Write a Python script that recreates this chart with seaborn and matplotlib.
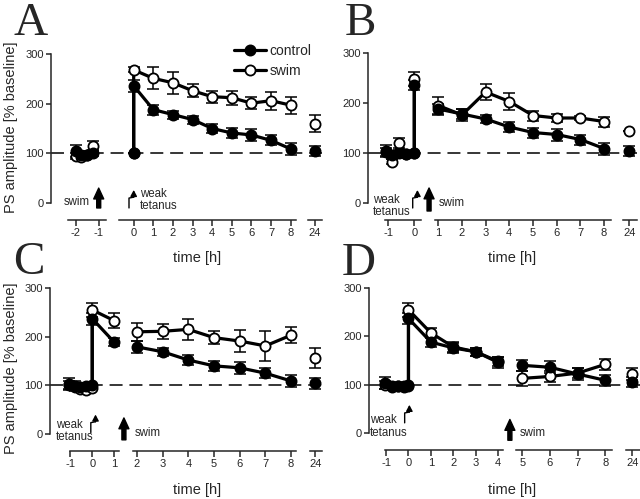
import numpy as np
import matplotlib
matplotlib.use('Agg')
import matplotlib.pyplot as plt
import seaborn as sns
from matplotlib.lines import Line2D
from matplotlib.transforms import IdentityTransform

# time [h], PS amplitude [% baseline] and SEM, one list per piece of the broken time axis
A_time = [[-2, -1.75, -1.5, -1.25], [0, 0, 1, 2, 3, 4, 5, 6, 7, 8], [24]]
A_ctrl = [[105, 97, 97, 100], [100, 236, 188, 178, 168, 150, 141, 137, 126, 109], [105]]
A_ctrl_sem = [[12, 8, 6, 6], [0, 12, 10, 8, 8, 10, 10, 12, 10, 12], [10]]
A_swim = [[95, 93, 97, 114], [100, 268, 251, 242, 226, 214, 212, 201, 206, 197], [160]]
A_swim_sem = [[6, 5, 6, 10], [0, 5, 22, 22, 13, 12, 14, 12, 18, 17], [18]]

B_time = [[-1.1, -0.85, -0.6, -0.3, 0, 0], [1, 2, 3, 4, 5, 6, 7, 8], [24]]
B_ctrl = [[105, 97, 100, 98, 100, 237], [188, 178, 168, 152, 141, 137, 127, 109], [105]]
B_ctrl_sem = [[12, 8, 6, 5, 0, 10], [10, 10, 8, 10, 10, 12, 10, 12], [10]]
B_swim = [[103, 83, 120, 98, 100, 248], [195, 176, 222, 203, 175, 170, 170, 163], [145]]
B_swim_sem = [[8, 5, 10, 5, 0, 14], [18, 12, 16, 17, 10, 8, 4, 10], [0]]

C_time = [[-1.05, -0.8, -0.55, -0.3, 0, 0, 1], [2, 3, 4, 5, 6, 7, 8], [24]]
C_ctrl = [[103, 98, 97, 98, 100, 237, 189], [179, 169, 152, 140, 136, 125, 109], [104]]
C_ctrl_sem = [[12, 10, 8, 6, 0, 12, 8], [12, 8, 10, 10, 12, 10, 12], [12]]
C_swim = [[100, 97, 92, 90, 95, 255, 233], [210, 211, 215, 198, 191, 181, 203], [156]]
C_swim_sem = [[8, 6, 5, 5, 0, 14, 16], [18, 15, 22, 14, 22, 30, 16], [20]]

D_time = [[-1.05, -0.75, -0.45, -0.2, 0, 0, 1, 2, 3, 4], [5, 6, 7, 8], [24]]
D_ctrl = [[103, 97, 98, 97, 100, 237, 188, 176, 168, 148], [140, 136, 122, 109], [105]]
D_ctrl_sem = [[12, 6, 6, 5, 0, 12, 10, 10, 8, 10], [12, 12, 12, 12], [10]]
D_swim = [[100, 96, 97, 96, 98, 255, 207, 178, 168, 146], [113, 117, 124, 142], [122]]
D_swim_sem = [[8, 5, 5, 5, 0, 14, 10, 10, 8, 12], [15, 12, 10, 12], [12]]

A_ticks = [[-2, -1], [0, 1, 2, 3, 4, 5, 6, 7, 8], [24]]
B_ticks = [[-1, 0], [1, 2, 3, 4, 5, 6, 7, 8], [24]]
C_ticks = [[-1, 0, 1], [2, 3, 4, 5, 6, 7, 8], [24]]
D_ticks = [[-1, 0, 1, 2, 3, 4], [5, 6, 7, 8], [24]]
y_ticks = [0, 100, 200, 300]

sns.set_style('ticks')
plt.rcParams['font.family'] = ['Liberation Sans', 'DejaVu Sans']
plt.rcParams['axes.unicode_minus'] = False

W, H = 640, 499
fig = plt.figure(figsize=(W / 100, H / 100), dpi=100)


def px_axes(x0, x1, ytop, ybot):
    return fig.add_axes([x0 / W, 1 - ybot / H, (x1 - x0) / W, (ybot - ytop) / H])


# pixel layout: y-axis box and the pieces of the x axis (x0, x1, xmin, xmax)
layout = {
    'A': dict(main=(51, 322, 54, 203),
              segs=[(68, 106, -2.335, -0.683), (119, 296, -0.749, 8.27), (308, 322, 23.65, 24.35)]),
    'B': dict(main=(368, 637, 53, 203),
              segs=[(385, 421, -1.127, 0.258), (435, 611, 0.861, 8.296), (623, 637, 23.685, 24.385)]),
    'C': dict(main=(50, 322, 288, 434),
              segs=[(70, 119, -1.02, 1.227), (133, 296, 1.844, 8.195), (310, 322, 23.735, 24.335)]),
    'D': dict(main=(369, 640, 288, 433),
              segs=[(385, 503, -1.045, 4.209), (516, 612, 4.771, 8.243), (626, 640, 23.685, 24.385)]),
}

panels = {
    'A': (A_time, A_ctrl, A_ctrl_sem, A_swim, A_swim_sem, A_ticks),
    'B': (B_time, B_ctrl, B_ctrl_sem, B_swim, B_swim_sem, B_ticks),
    'C': (C_time, C_ctrl, C_ctrl_sem, C_swim, C_swim_sem, C_ticks),
    'D': (D_time, D_ctrl, D_ctrl_sem, D_swim, D_swim_sem, D_ticks),
}

LW = 2.3
seg_axes = {}
for name, (times, ctrl, ctrl_sem, swim, swim_sem, ticks) in panels.items():
    lay = layout[name]
    main = px_axes(*lay['main'])
    main.set_ylim(0, 300)
    main.set_xlim(0, 1)
    main.set_yticks(y_ticks)
    main.set_xticks([])
    for s in ['top', 'right', 'bottom']:
        main.spines[s].set_visible(False)
    main.spines['left'].set_bounds(0, 300)
    main.spines['left'].set_linewidth(1.1)
    main.tick_params(axis='y', direction='out', length=3.5, width=1.1, labelsize=8, pad=1.5)
    main.axhline(100, color='k', lw=1.1, dashes=(8.5, 4.5), zorder=1)
    main.set_facecolor('none')

    seg_axes[name] = []
    for i, (x0, x1, xmin, xmax) in enumerate(lay['segs']):
        ax = px_axes(x0, x1, lay['main'][2], lay['main'][3])
        ax.set_facecolor('none')
        ax.set_ylim(0, 300)
        ax.set_xlim(xmin, xmax)
        for s in ['top', 'right', 'left']:
            ax.spines[s].set_visible(False)
        ax.spines['bottom'].set_position(('outward', 12.2))
        ax.spines['bottom'].set_linewidth(1.1)
        ax.set_yticks([])
        ax.set_xticks(ticks[i])
        ax.set_xticklabels([str(t) for t in ticks[i]])
        ax.tick_params(axis='x', direction='out', length=4.5, width=1.1, labelsize=8, pad=1.5)

        for y, e, fc in [(swim[i], swim_sem[i], 'white'), (ctrl[i], ctrl_sem[i], 'black')]:
            ax.errorbar(times[i], y, yerr=e, fmt='none', ecolor='k', elinewidth=1.1,
                        capsize=4.5, capthick=1.1, zorder=2, clip_on=False)
            sns.lineplot(x=times[i], y=y, ax=ax, estimator=None, sort=False, color='k',
                         lw=LW, marker='o', ms=7.3, mfc=fc, mec='k', mew=1.3,
                         zorder=3, clip_on=False, legend=False)
        ax.set_xlabel('')
        ax.set_ylabel('')
        seg_axes[name].append(ax)

fig.canvas.draw()


def tetanus_icon(ax, t, v, h=18):
    # small zig-zag arrow marking the weak tetanus
    x, y = ax.transData.transform((t, v))
    fig.add_artist(Line2D([x - 4.7, x - 4.7, x, x], [y, y + h * 0.55, y + h * 0.6, y + h * 0.8],
                          transform=IdentityTransform(), color='k', lw=1.0))
    ax.annotate('', xy=(x, y + h), xytext=(x, y + h * 0.6), xycoords='figure pixels',
                textcoords='figure pixels',
                arrowprops=dict(arrowstyle='-|>,head_length=0.3,head_width=0.16', lw=1.0,
                                color='k', shrinkA=0, shrinkB=0, mutation_scale=12))


def swim_arrow(ax, t, v0, v1):
    ax.annotate('', xy=(t, v1), xytext=(t, v0), annotation_clip=False,
                arrowprops=dict(arrowstyle='simple,head_length=0.65,head_width=0.6,tail_width=0.24',
                                fc='k', ec='k', shrinkA=0, shrinkB=0, mutation_scale=12))


txt = dict(fontsize=8.3, va='center', clip_on=False, linespacing=1.05)

# A
s = seg_axes['A']
swim_arrow(s[0], -1, -10, 30)
s[0].text(-1.38, 3, 'swim', ha='right', **txt)
tetanus_icon(s[1], 0, -10)
s[1].text(0.32, 6, 'weak\ntetanus', ha='left', **txt)
# B
s = seg_axes['B']
tetanus_icon(s[0], 0.12, -10)
s[0].text(-1.59, -6, 'weak\ntetanus', ha='left', **txt)
swim_arrow(s[1], 0.61, -16, 30)
s[1].text(1.03, 0, 'swim', ha='left', **txt)
# C
s = seg_axes['C']
tetanus_icon(s[0], 0.15, 3)
s[0].text(-1.68, 6, 'weak\ntetanus', ha='left', **txt)
swim_arrow(s[1], 1.49, -12, 33)
s[1].text(1.92, 2, 'swim', ha='left', **txt)
# D
s = seg_axes['D']
tetanus_icon(s[0], 0.04, 21)
s[0].text(-1.71, 13, 'weak\ntetanus', ha='left', **txt)
swim_arrow(s[1], 4.55, -15, 28)
s[1].text(4.92, 0, 'swim', ha='left', **txt)

# legend
handles = [Line2D([], [], color='k', lw=LW, marker='o', ms=7.3, mfc='black', mec='k', mew=1.3),
           Line2D([], [], color='k', lw=LW, marker='o', ms=7.3, mfc='white', mec='k', mew=1.3)]
fig.legend(handles, ['control', 'swim'], loc='upper left', bbox_to_anchor=(234 / W, 1 - 44 / H),
           frameon=False, fontsize=10, handlelength=2.3, handletextpad=0.25, labelspacing=0.4,
           borderpad=0, borderaxespad=0)

# panel letters and axis labels
for letter, (x, y) in {'A': (13, 35), 'B': (345, 35), 'C': (13, 274), 'D': (342, 275)}.items():
    fig.text(x / W, 1 - y / H, letter, family='Liberation Serif', fontsize=34, va='baseline')
for x, y in [(197, 258), (512, 258), (197, 490), (512, 490)]:
    fig.text(x / W, 1 - y / H, 'time [h]', ha='center', va='center', fontsize=10.5)
for y in [127, 368]:
    fig.text(11 / W, 1 - y / H, 'PS amplitude [% baseline]', rotation=90, ha='center',
             va='center', fontsize=10.5)

fig.savefig('out.png', dpi=100, facecolor='white')
